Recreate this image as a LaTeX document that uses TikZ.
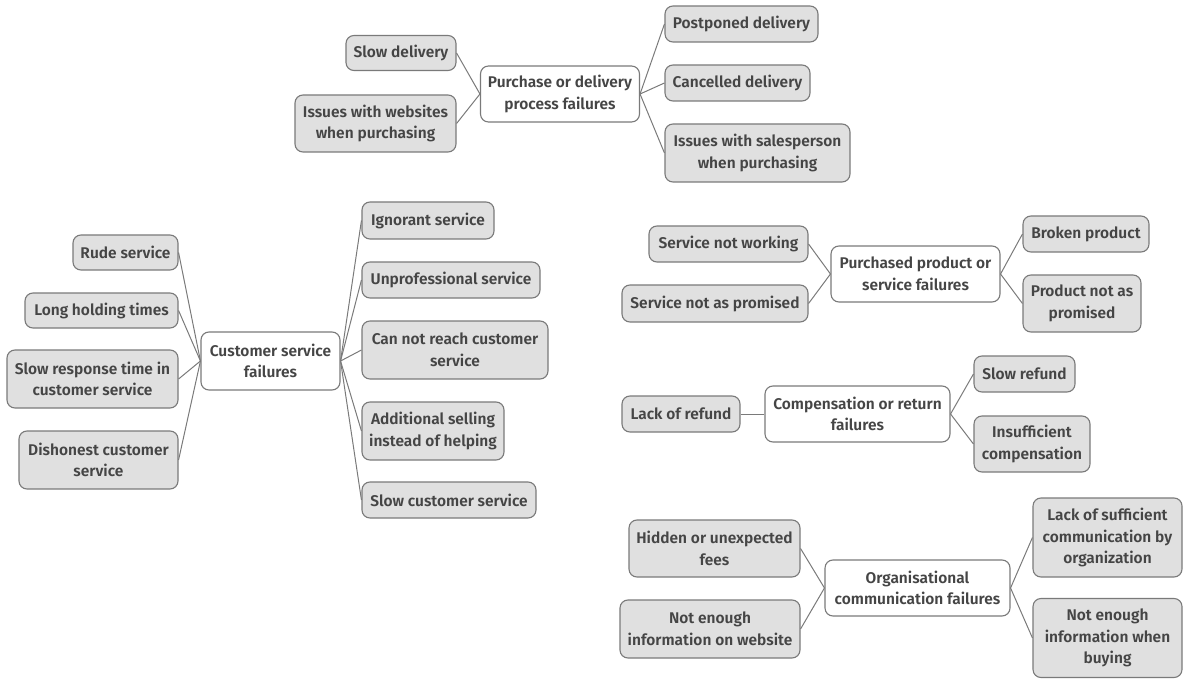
\documentclass[tikz,border=0pt]{standalone}
\usepackage{fontspec}
\setmainfont{Fira Sans}[BoldFont={Fira Sans SemiBold}]
\definecolor{txt}{HTML}{454545}
\definecolor{leaffill}{HTML}{E0E0E0}
\definecolor{edgec}{HTML}{7A7A7A}
\tikzset{
  base/.style={draw=edgec, line width=1.1pt, rounded corners=8pt, align=center,
    text=txt, font=\fontsize{15.5}{21.5}\selectfont\bfseries, inner sep=1pt},
  leaf/.style={base, fill=leaffill},
  hub/.style={base, fill=white},
  link/.style={draw=edgec, line width=1pt},
}
\begin{document}
\begin{tikzpicture}[x=1pt,y=-1pt]
\useasboundingbox (0,0) rectangle (1186,679);
% top group
\node[hub, minimum width=159, minimum height=56] (pd) at (560,94) {Purchase or delivery\\process failures};
\node[leaf, minimum width=110, minimum height=35] (sd) at (401,53) {Slow delivery};
\node[leaf, minimum width=161, minimum height=57] (iw) at (375.5,123.5) {Issues with websites\\when purchasing};
\node[leaf, minimum width=153, minimum height=36] (pp) at (741.5,24) {Postponed delivery};
\node[leaf, minimum width=145, minimum height=36] (cd) at (737.5,83) {Cancelled delivery};
\node[leaf, minimum width=185, minimum height=58] (is) at (757.5,153) {Issues with salesperson\\when purchasing};
\foreach \c in {sd,iw} \draw[link] (\c.east) -- (pd.west);
\foreach \c in {pp,cd,is} \draw[link] (pd.east) -- (\c.west);
% left group
\node[hub, minimum width=139, minimum height=58] (cs) at (270.5,361) {Customer service\\failures};
\node[leaf, minimum width=105, minimum height=35] (rs) at (125.5,252.5) {Rude service};
\node[leaf, minimum width=153, minimum height=35] (lh) at (101.5,310.5) {Long holding times};
\node[leaf, minimum width=171, minimum height=58] (sr) at (92.5,379) {Slow response time in\\customer service};
\node[leaf, minimum width=159, minimum height=58] (dc) at (98.5,460) {Dishonest customer\\service};
\node[leaf, minimum width=132, minimum height=37] (ig) at (428,220.5) {Ignorant service};
\node[leaf, minimum width=178, minimum height=36] (up) at (451,280) {Unprofessional service};
\node[leaf, minimum width=186, minimum height=58] (cr) at (455,350) {Can not reach customer\\service};
\node[leaf, minimum width=142, minimum height=58] (as) at (433,431) {Additional selling\\instead of helping};
\node[leaf, minimum width=174, minimum height=36] (sc) at (449,500) {Slow customer service};
\foreach \c in {rs,lh,sr,dc} \draw[link] (\c.east) -- (cs.west);
\foreach \c in {ig,up,cr,as,sc} \draw[link] (cs.east) -- (\c.west);
% product group
\node[hub, minimum width=169, minimum height=56] (ps) at (915.5,274) {Purchased product or\\service failures};
\node[leaf, minimum width=159, minimum height=36] (sn) at (728.5,244) {Service not working};
\node[leaf, minimum width=186, minimum height=37] (sp) at (715,303.5) {Service not as promised};
\node[leaf, minimum width=126, minimum height=36] (bp) at (1086,234) {Broken product};
\node[leaf, minimum width=118, minimum height=57] (pn) at (1082,303.5) {Product not as\\promised};
\foreach \c in {sn,sp} \draw[link] (\c.east) -- (ps.west);
\foreach \c in {bp,pn} \draw[link] (ps.east) -- (\c.west);
% compensation group
\node[hub, minimum width=185, minimum height=56] (cp) at (857.5,414) {Compensation or return\\failures};
\node[leaf, minimum width=118, minimum height=36] (lr) at (681,414) {Lack of refund};
\node[leaf, minimum width=101, minimum height=36] (sf) at (1024.5,374) {Slow refund};
\node[leaf, minimum width=116, minimum height=56] (ic) at (1032,444) {Insufficient\\compensation};
\draw[link] (lr.east) -- (cp.west);
\foreach \c in {sf,ic} \draw[link] (cp.east) -- (\c.west);
% communication group
\node[hub, minimum width=185, minimum height=56] (oc) at (917.5,588) {Organisational\\communication failures};
\node[leaf, minimum width=171, minimum height=57] (hf) at (714.5,548.5) {Hidden or unexpected\\fees};
\node[leaf, minimum width=180, minimum height=58] (ne) at (710,629) {Not enough\\information on website};
\node[leaf, minimum width=149, minimum height=79] (ls) at (1107.5,537.5) {Lack of sufficient\\communication by\\organization};
\node[leaf, minimum width=149, minimum height=79] (nb) at (1107.5,638) {Not enough\\information when\\buying};
\foreach \c in {hf,ne} \draw[link] (\c.east) -- (oc.west);
\foreach \c in {ls,nb} \draw[link] (oc.east) -- (\c.west);
\end{tikzpicture}
\end{document}
